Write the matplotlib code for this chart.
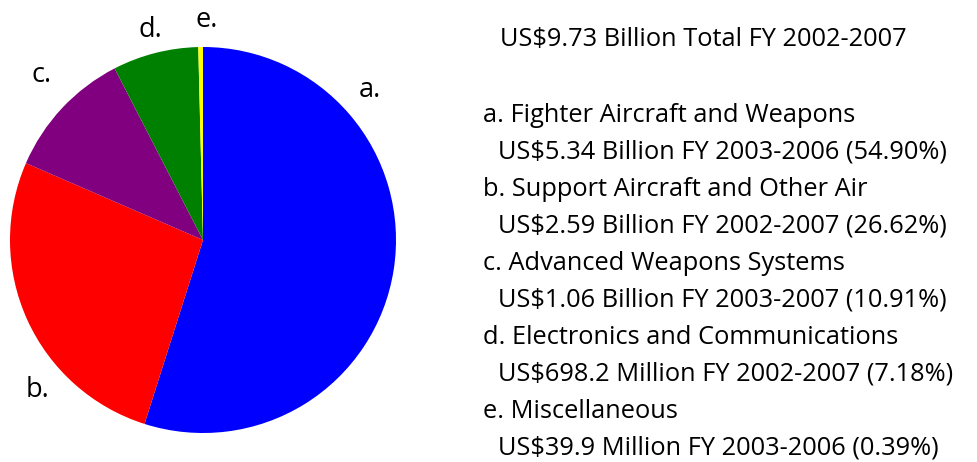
import matplotlib.pyplot as plt

# slices (percent of total)
letters = ['a.', 'b.', 'c.', 'd.', 'e.']
shares = [54.90, 26.62, 10.91, 7.18, 0.39]
colors = ['#0000ff', '#ff0000', '#800080', '#008000', '#ffff00']
names = ['Fighter Aircraft and Weapons',
         'Support Aircraft and Other Air',
         'Advanced Weapons Systems',
         'Electronics and Communications',
         'Miscellaneous']
amounts = ['US$5.34 Billion FY 2003-2006 (54.90%)',
           'US$2.59 Billion FY 2002-2007 (26.62%)',
           'US$1.06 Billion FY 2003-2007 (10.91%)',
           'US$698.2 Million FY 2002-2007 (7.18%)',
           'US$39.9 Million FY 2003-2006 (0.39%)']
total_text = 'US$9.73 Billion Total FY 2002-2007'

plt.rcParams['font.family'] = ['Open Sans', 'DejaVu Sans']

W, H = 978, 462
fig = plt.figure(figsize=(W / 100, H / 100), dpi=100)
ax = fig.add_axes([0, 0, 1, 1])

# pie in pixel space (y axis inverted, so counterclock=True goes clockwise on screen)
ax.pie(shares, colors=colors, startangle=-90, counterclock=True,
       center=(203, 240), radius=193, frame=True,
       wedgeprops=dict(linewidth=0))
ax.set_xlim(0, W)
ax.set_ylim(H, 0)
ax.set_aspect('equal')
ax.axis('off')

# slice letters around the pie
label_pos = [(370, 90), (38, 390), (42, 75), (150, 30), (207, 20)]
for t, (x, y) in zip(letters, label_pos):
    ax.text(x, y, t, fontsize=19.5, ha='center', va='center')

# description text on the right
fs = 18.3
ax.text(500, 40, total_text, fontsize=fs, va='center')
y0, step = 115, 37
for i, (l, n, a) in enumerate(zip(letters, names, amounts)):
    y = y0 + 2 * i * step
    ax.text(483, y, f'{l} {n}', fontsize=fs, va='center')
    ax.text(498, y + step, a, fontsize=fs, va='center')

fig.savefig('out.png', dpi=100)
